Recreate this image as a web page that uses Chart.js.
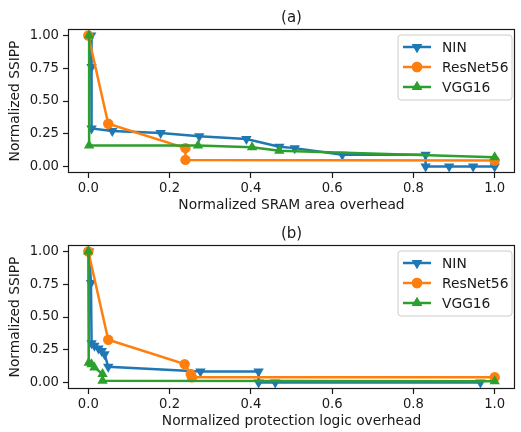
<!DOCTYPE html>
<html><head><meta charset="utf-8">
<script src="https://cdn.jsdelivr.net/npm/chart.js@4.4.0/dist/chart.umd.min.js"></script>
<style>
html,body{margin:0;padding:0;background:#fff;}
.wrap{position:relative;width:521px;height:216px;}
</style></head><body>
<div class="wrap"><canvas id="c1"></canvas></div>
<div class="wrap"><canvas id="c2"></canvas></div>
<script>
const seriesNames = ['NIN', 'ResNet56', 'VGG16'];
const seriesColors = ['#1f77b4', '#ff7f0e', '#2ca02c'];
const xTickValues = [0, 0.2, 0.4, 0.6, 0.8, 1.0];
const xTickLabels = ['0.0', '0.2', '0.4', '0.6', '0.8', '1.0'];
const yTickValues = [0, 0.25, 0.5, 0.75, 1.0];
const yTickLabels = ['0.00', '0.25', '0.50', '0.75', '1.00'];

// (a) Normalized SRAM area overhead
const ninSramX = [0.007, 0.008, 0.008, 0.059, 0.178, 0.273, 0.389, 0.47, 0.508, 0.625, 0.83, 0.83, 0.888, 0.947, 1.0];
const ninSramY = [1.0, 0.76, 0.29, 0.27, 0.255, 0.23, 0.21, 0.15, 0.14, 0.09, 0.09, 0.0, 0.0, 0.0, 0.0];
const resSramX = [0.0, 0.049, 0.239, 0.239, 1.0];
const resSramY = [1.0, 0.326, 0.14, 0.05, 0.045];
const vggSramX = [0.002, 0.002, 0.27, 0.403, 0.47, 1.0];
const vggSramY = [1.0, 0.16, 0.16, 0.146, 0.12, 0.07];

// (b) Normalized protection logic overhead
const ninLogicX = [0.002, 0.0065, 0.008, 0.015, 0.025, 0.033, 0.04, 0.049, 0.276, 0.419, 0.419, 0.46, 0.965];
const ninLogicY = [1.0, 0.76, 0.30, 0.28, 0.26, 0.24, 0.216, 0.12, 0.084, 0.084, 0.0, 0.0, 0.0];
const resLogicX = [0.0, 0.049, 0.237, 0.252, 0.255, 1.0];
const resLogicY = [1.0, 0.326, 0.14, 0.065, 0.04, 0.04];
const vggLogicX = [0.0, 0.001, 0.008, 0.015, 0.035, 0.035, 1.0];
const vggLogicY = [1.0, 0.15, 0.14, 0.115, 0.064, 0.013, 0.01];

const FONT = 'DejaVu Sans';
const TXT = '#1a1a1a';

function pts(xs, ys) { return xs.map((x, i) => ({x: x, y: ys[i]})); }

function makeDatasets(series) {
  const styles = [
    {pointStyle: 'triangle', rotation: 180, r: 6},
    {pointStyle: 'circle', rotation: 0, r: 5.2},
    {pointStyle: 'triangle', rotation: 0, r: 6}
  ];
  return series.map((s, i) => ({
    label: seriesNames[i],
    data: pts(s[0], s[1]),
    showLine: true,
    borderColor: seriesColors[i],
    backgroundColor: seriesColors[i],
    pointBackgroundColor: seriesColors[i],
    pointBorderColor: seriesColors[i],
    pointBorderWidth: 0,
    borderWidth: 2.5,
    pointStyle: styles[i].pointStyle,
    rotation: styles[i].rotation,
    pointRadius: styles[i].r,
    pointHoverRadius: styles[i].r,
    order: 3 - i,
    clip: false
  }));
}

const boxLegend = {
  id: 'boxLegend',
  afterDraw(chart) {
    const ctx = chart.ctx, a = chart.chartArea;
    ctx.save();
    ctx.strokeStyle = TXT; ctx.lineWidth = 1.2;
    ctx.strokeRect(a.left + 0.5, a.top + 0.5, a.right - a.left - 1, a.bottom - a.top - 1);
    // legend
    const bw = 114, bh = 65;
    const bx = a.right - 3 - bw, by = a.top + 6;
    ctx.beginPath();
    if (ctx.roundRect) ctx.roundRect(bx, by, bw, bh, 3); else ctx.rect(bx, by, bw, bh);
    ctx.fillStyle = 'rgba(255,255,255,0.85)';
    ctx.fill();
    ctx.strokeStyle = '#cccccc'; ctx.lineWidth = 1;
    ctx.stroke();
    const dsets = chart.data.datasets;
    dsets.forEach((d, i) => {
      const y = by + 12 + i * 20;
      ctx.strokeStyle = d.borderColor; ctx.lineWidth = 2.5;
      ctx.beginPath(); ctx.moveTo(bx + 5, y); ctx.lineTo(bx + 33, y); ctx.stroke();
      ctx.fillStyle = d.borderColor;
      Chart.helpers.drawPoint(ctx, {pointStyle: d.pointStyle, rotation: d.rotation, radius: d.pointRadius, borderWidth: 0}, bx + 19, y);
      ctx.fill();
      ctx.fillStyle = TXT;
      ctx.font = '13.8px "' + FONT + '"';
      ctx.textBaseline = 'middle';
      ctx.textAlign = 'left';
      ctx.fillText(d.label, bx + 44, y + 1);
    });
    ctx.restore();
  }
};

function makeChart(id, title, xTitle, series) {
  return new Chart(document.getElementById(id), {
    type: 'scatter',
    data: {datasets: makeDatasets(series)},
    plugins: [boxLegend],
    options: {
      responsive: true,
      maintainAspectRatio: false,
      animation: false,
      devicePixelRatio: 1,
      layout: {padding: {left: 0, right: 1, top: 0, bottom: 0}},
      plugins: {
        legend: {display: false},
        tooltip: {enabled: false},
        title: {
          display: true, text: title, fullSize: false, color: TXT,
          font: {family: FONT, size: 15, weight: 'normal'},
          padding: {top: 9, bottom: 2}
        }
      },
      scales: {
        x: {
          type: 'linear', min: -0.05, max: 1.05,
          afterBuildTicks: s => { s.ticks = xTickValues.map(v => ({value: v})); },
          afterFit: s => { s.height = 43; },
          ticks: {
            callback: (v, i) => xTickLabels[i],
            color: TXT, font: {family: FONT, size: 13.2}, padding: 3, maxRotation: 0
          },
          grid: {drawOnChartArea: false, drawTicks: true, tickLength: 5, color: TXT, tickWidth: 1.2},
          border: {display: false},
          title: {display: true, text: xTitle, color: TXT, font: {family: FONT, size: 13.8}, padding: {top: 0, bottom: 2}}
        },
        y: {
          type: 'linear', min: -0.05, max: 1.05,
          afterBuildTicks: s => { s.ticks = yTickValues.map(v => ({value: v})); },
          afterFit: s => { s.width = 68; },
          ticks: {
            callback: (v, i) => yTickLabels[i],
            color: TXT, font: {family: FONT, size: 13.2}, padding: 4
          },
          grid: {drawOnChartArea: false, drawTicks: true, tickLength: 5, color: TXT, tickWidth: 1.2},
          border: {display: false},
          title: {display: true, text: 'Normalized SSIPP', color: TXT, font: {family: FONT, size: 13.8}, padding: {top: 6.8, bottom: 0}}
        }
      }
    }
  });
}

makeChart('c1', '(a)', 'Normalized SRAM area overhead',
  [[ninSramX, ninSramY], [resSramX, resSramY], [vggSramX, vggSramY]]);
makeChart('c2', '(b)', 'Normalized protection logic overhead',
  [[ninLogicX, ninLogicY], [resLogicX, resLogicY], [vggLogicX, vggLogicY]]);
</script>
</body></html>
